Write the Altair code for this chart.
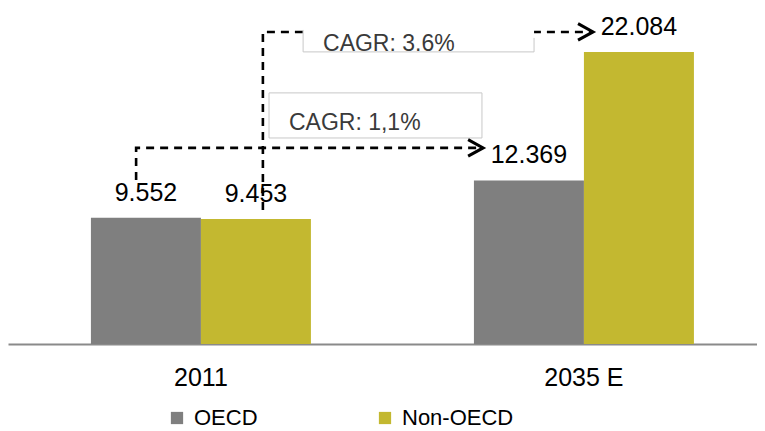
import altair as alt
import pandas as pd

# ---------------- data ----------------
years = ["2011", "2035 E"]
groups = ["OECD", "Non-OECD"]
oecd_values = [9.552, 12.369]
non_oecd_values = [9.453, 22.084]
oecd_labels = ["9.552", "12.369"]
non_oecd_labels = ["9.453", "22.084"]

# annotation geometry, in chart units:
# x: year-slot units (2011 centre = 0, 2035 E centre = 1); y: value units
cagr_texts = ["CAGR: 1,1%", "CAGR: 3.6%"]
cagr_text_x = [0.227, 0.316]
cagr_text_y = [16.19, 22.16]
path_oecd_x = [-0.172, -0.172, 0.734]
path_oecd_y = [12.41, 14.83, 14.83]
path_non_x = [0.159, 0.159, 1.021]
path_non_y = [10.14, 23.60, 23.60]
box1_x = [0.175, 0.731]
box1_y = [15.58, 18.99]
box2_x = [0.264, 0.867]
box2_y = [22.09, 24.05]
box2_edge_x = [0.264, 0.264, 0.867, 0.867]
box2_edge_y = [23.75, 22.09, 22.09, 23.15]

GREY = "#7f7f7f"
OLIVE = "#c3b830"
FONT = "Liberation Sans"
Y_MAX = 25.41
X_DOMAIN = [-0.5065, 1.4491]

bars_df = pd.DataFrame({
    "year": years * 2,
    "group": [groups[0]] * 2 + [groups[1]] * 2,
    "value": oecd_values + non_oecd_values,
    "label": oecd_labels + non_oecd_labels,
})

paths_df = pd.DataFrame({
    "x": path_oecd_x + path_non_x,
    "y": path_oecd_y + path_non_y,
    "path": ["oecd"] * 3 + ["non"] * 3,
    "order": [0, 1, 2] * 2,
})
tips_df = pd.DataFrame({"x": [path_oecd_x[-1], path_non_x[-1]],
                        "y": [path_oecd_y[-1], path_non_y[-1]]})
box1_df = pd.DataFrame({"x": [box1_x[0]], "x2": [box1_x[1]],
                        "y": [box1_y[0]], "y2": [box1_y[1]]})
box2_df = pd.DataFrame({"x": [box2_x[0]], "x2": [box2_x[1]],
                        "y": [box2_y[0]], "y2": [box2_y[1]]})
box2_edge_df = pd.DataFrame({"x": box2_edge_x, "y": box2_edge_y,
                             "order": list(range(len(box2_edge_x)))})
text_df = pd.DataFrame({"x": cagr_text_x, "y": cagr_text_y, "t": cagr_texts})

yscale = alt.Scale(domain=[0, Y_MAX], nice=False, zero=True)
band_scale = alt.Scale(domain=years, paddingInner=0.4256, paddingOuter=0.1906, align=0.568)
xband = alt.X(
    "year:N", sort=years, scale=band_scale,
    axis=alt.Axis(title=None, ticks=False, labelAngle=0, labelFontSize=25,
                  labelFont=FONT, labelColor="#000000", labelPadding=21,
                  domainColor="#8a8a8a", domainWidth=2, grid=False),
)
xband_plain = alt.X("year:N", sort=years, scale=band_scale, axis=None)
xoff = alt.XOffset("group:N", sort=groups,
                   scale=alt.Scale(domain=groups, paddingInner=0, paddingOuter=0))
yenc = alt.Y("value:Q", scale=yscale, axis=None)

bars = alt.Chart(bars_df).mark_bar().encode(
    x=xband, xOffset=xoff, y=yenc,
    color=alt.Color("group:N", sort=groups,
                    scale=alt.Scale(domain=groups, range=[GREY, OLIVE]),
                    legend=alt.Legend(title=None, orient="none", legendX=158, legendY=399,
                                      direction="horizontal", symbolType="square",
                                      symbolSize=150, symbolStrokeWidth=0,
                                      labelFontSize=22, labelFont=FONT, labelColor="#000000",
                                      labelOffset=6, columnPadding=116)),
)
value_labels = alt.Chart(bars_df).mark_text(
    dy=-17, baseline="alphabetic", fontSize=25, font=FONT, color="#000000"
).encode(x=xband_plain, xOffset=xoff, y=yenc, text="label:N")

xq = alt.X("x:Q", scale=alt.Scale(domain=X_DOMAIN, nice=False, zero=False), axis=None)
yq = alt.Y("y:Q", scale=yscale, axis=None)

box1 = alt.Chart(box1_df).mark_rect(fill="white", stroke="#c8c8c8", strokeWidth=1).encode(
    x=xq, x2="x2:Q", y=yq, y2="y2:Q")
paths = alt.Chart(paths_df).mark_line(
    color="black", strokeWidth=2.6, strokeDash=[8, 6]
).encode(x=xq, y=yq, detail="path:N", order="order:Q")
box2 = alt.Chart(box2_df).mark_rect(fill="white", strokeWidth=0).encode(
    x=xq, x2="x2:Q", y=yq, y2="y2:Q")
box2_edges = alt.Chart(box2_edge_df).mark_line(color="#c8c8c8", strokeWidth=1).encode(
    x=xq, y=yq, order="order:Q")
cagr_text = alt.Chart(text_df).mark_text(
    align="left", baseline="alphabetic", fontSize=23, font=FONT, color="#3a3a3a"
).encode(x=xq, y=yq, text="t:N")
tips = alt.Chart(tips_df).mark_point(
    shape="M -1 -0.55 L 0 0 L -1 0.55", size=900, filled=False,
    stroke="black", strokeWidth=3, opacity=1
).encode(x=xq, y=yq)

chart = alt.layer(
    bars, value_labels, box1, paths, box2, box2_edges, cagr_text, tips
).resolve_scale(x="independent").properties(
    width=749, height=336, padding=0
).configure_view(stroke=None)

chart.save("out.html", embed_options={"renderer": "svg", "actions": False})
